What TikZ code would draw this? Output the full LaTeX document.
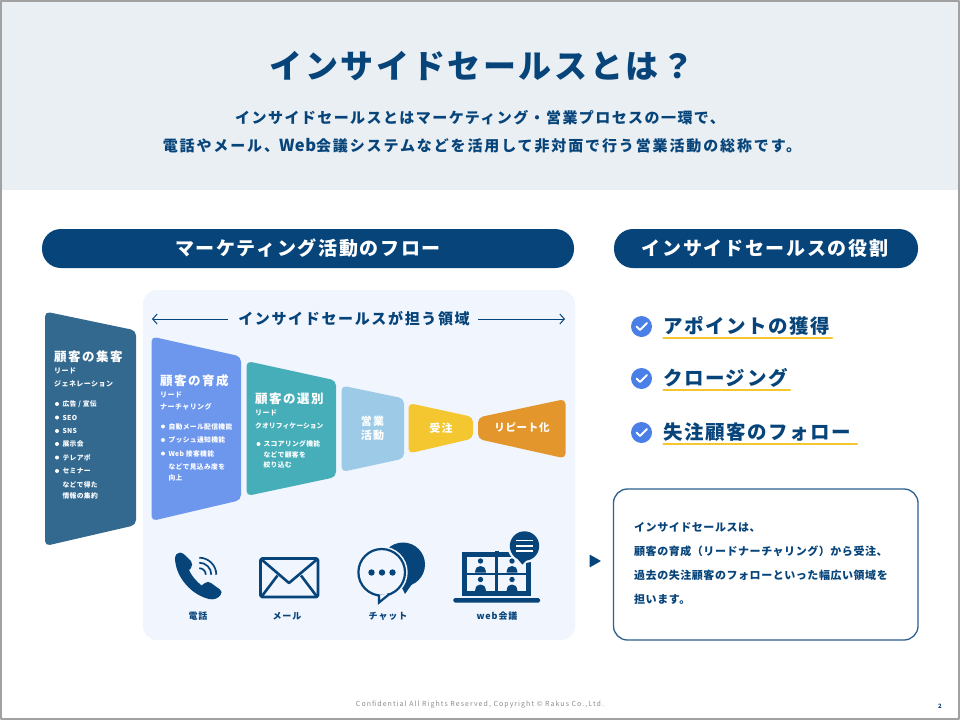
\documentclass[tikz,border=0pt]{standalone}
\usepackage{fontspec}
\setmainfont{Noto Sans CJK JP}
\usetikzlibrary{arrows.meta}

\definecolor{navy}{HTML}{07447A}
\definecolor{headbg}{HTML}{E9EFF2}
\definecolor{panelbg}{HTML}{F0F5FE}
\definecolor{leadgen}{HTML}{33688F}
\definecolor{nurture}{HTML}{6D96ED}
\definecolor{select}{HTML}{46AEB9}
\definecolor{sales}{HTML}{9DCBE7}
\definecolor{order}{HTML}{F4C62F}
\definecolor{repeatc}{HTML}{E2962C}
\definecolor{checkc}{HTML}{4A7FE8}

\newcommand{\jpbold}[2]{\fontsize{#1}{#1}\bfseries\addfontfeature{LetterSpace=#2}}

\tikzset{
    funnel/.style={rounded corners=5pt},
    navytext/.style={text=navy, inner sep=0pt},
    whitetext/.style={text=white, inner sep=0pt},
    whiteleft/.style={whitetext, anchor=west},
    blocktitle/.style={whiteleft, font=\jpbold{12.5}{12}},
    blocksub/.style={whiteleft, font=\jpbold{7}{6}},
    blockitem/.style={whiteleft, font=\jpbold{6.8}{5}},
    banner/.style={fill=navy, rounded corners=19pt},
    pilltext/.style={text=white, inner sep=0pt, font=\jpbold{19}{9}},
    iconlabel/.style={navytext, font=\jpbold{9}{10}},
    roletext/.style={navytext, anchor=west, font=\jpbold{19.5}{8}},
    roleline/.style={draw=order, line width=2.4pt, line cap=round},
    spanarrow/.style={draw=navy, line width=1pt, -{Straight Barb[length=4.5pt,width=10pt]}},
}

\begin{document}
\begin{tikzpicture}[x=1pt, y=-1pt, line join=round]
    \useasboundingbox (0,0) rectangle (960,720);
    \fill[white] (0,0) rectangle (960,720);

    % header
    \fill[headbg] (0,0) rectangle (960,190);
    \node[navytext, font=\jpbold{33}{8}] (title) at (482,66) {インサイドセールスとは？};
    \node[navytext, font=\jpbold{15}{9.5}] (lead1) at (480,118) {インサイドセールスとはマーケティング・営業プロセスの一環で、};
    \node[navytext, font=\jpbold{15}{12.5}] (lead2) at (482,146) {電話やメール、{\fontsize{16.5}{16.5}\selectfont\addfontfeature{LetterSpace=3}Web}会議システムなどを活用して非対面で行う営業活動の総称です。};

    % banners
    \path[banner] (42,229) rectangle (574,268);
    \path[banner] (614,229) rectangle (918,268);
    \node[pilltext] (flowhead) at (308,248) {マーケティング活動のフロー};
    \node[pilltext] (rolehead) at (765,248) {インサイドセールスの役割};

    % panel
    \fill[panelbg, rounded corners=14pt] (143,290) rectangle (575,640);
    \node[navytext, font=\jpbold{15}{11}] (span) at (354,319) {インサイドセールスが担う領域};
    \coordinate (spanl) at (152,319);
    \coordinate (spanr) at (565,319);
    \draw[spanarrow] (span.west) ++(-10,0) -- (spanl);
    \draw[spanarrow] (span.east) ++(8,0) -- (spanr);

    % funnel blocks
    \fill[leadgen, funnel] (45,311.5) -- (136,330.5) -- (136,525) -- (45,546) -- cycle;
    \fill[nurture, funnel] (151.5,336.5) -- (241,356.5) -- (241,500) -- (151.5,521) -- cycle;
    \fill[select, funnel] (246.5,361) -- (336,380.5) -- (336,477) -- (246.5,496) -- cycle;
    \fill[sales, funnel] (341.5,385.5) -- (404,398.5) -- (404,458.5) -- (341.5,472) -- cycle;
    \fill[order, funnel] (408.5,403) -- (473,417) -- (473,438.5) -- (408.5,453.5) -- cycle;
    \fill[repeatc, funnel] (478,417.5) -- (565.5,399) -- (565.5,458.5) -- (478,439) -- cycle;

    % lead generation text
    \node[blocktitle] (leadgentitle) at (54,357) {顧客の集客};
    \node[blocksub] (leadgensub1) at (54,371) {リード};
    \node[blocksub] (leadgensub2) at (54,384) {ジェネレーション};
    \foreach \y/\t [count=\i] in {404/{広告 / 宣伝},417.5/SEO,431/SNS,444/展示会,457.5/テレアポ,471/セミナー} {
        \fill[white] (57,\y) circle (2pt);
        \node[blockitem] (leadgenitem\i) at (62.3,\y) {\t};
    }
    \node[blockitem] (leadgennote1) at (62.3,485) {などで得た};
    \node[blockitem] (leadgennote2) at (62.3,495.5) {情報の集約};

    % nurturing text
    \node[blocktitle] (nurturetitle) at (160,381) {顧客の育成};
    \node[blocksub] (nurturesub1) at (160,394.5) {リード};
    \node[blocksub] (nurturesub2) at (160,407) {ナーチャリング};
    \foreach \y/\t [count=\i] in {426.5/自動メール配信機能,440/プッシュ通知機能,453.5/Web 接客機能} {
        \fill[white] (163,\y) circle (2pt);
        \node[blockitem] (nurtureitem\i) at (168.3,\y) {\t};
    }
    \node[blockitem] (nurturenote1) at (168.3,467) {などで見込み度を};
    \node[blockitem] (nurturenote2) at (168.3,478) {向上};

    % qualification text
    \node[blocktitle] (selecttitle) at (255,399) {顧客の選別};
    \node[blocksub] (selectsub1) at (255,413) {リード};
    \node[blocksub, font=\jpbold{6.8}{1}] (selectsub2) at (255,425.5) {クオリフィケーション};
    \fill[white] (258.5,444) circle (2pt);
    \node[blockitem] (selectitem) at (263.3,444) {スコアリング機能};
    \node[blockitem] (selectnote1) at (263.3,455) {などで顧客を};
    \node[blockitem] (selectnote2) at (263.3,465) {絞り込む};

    % small blocks
    \node[whitetext, font=\jpbold{11}{10}] (salestext1) at (372.5,421) {営業};
    \node[whitetext, font=\jpbold{11}{10}] (salestext2) at (372.5,435) {活動};
    \node[whitetext, font=\jpbold{11}{10}] (ordertext) at (441,428) {受注};
    \node[whitetext, font=\jpbold{10.5}{6}] (repeattext) at (522,428) {リピート化};

    % phone
    \fill[navy] (175,559) .. controls (175,555) and (177,552.5) .. (180,552.5)
        .. controls (182,552.5) and (184,554) .. (186,556)
        -- (191,561) .. controls (192.5,563) and (192.5,566) .. (191,568)
        -- (189,570) .. controls (191,575) and (196,581) .. (201.5,585.5)
        -- (205,583) .. controls (207,581.5) and (209,581.5) .. (211,583)
        -- (220,589.5) .. controls (222,591) and (222,593) .. (220.5,595)
        .. controls (218,598.5) and (214,600) .. (209,599)
        .. controls (192,595) and (176,578) .. (175,559) -- cycle;
    \foreach \r in {6.5,12,17} {
        \draw[navy, line width=1.7pt] (199.3,574.7-\r) .. controls (199.3+0.55*\r,574.7-\r) and (199.3+\r,574.7-0.55*\r) .. (199.3+\r,574.7);
    }
    \node[iconlabel] (phonelabel) at (198,616) {電話};

    % mail
    \draw[navy, line width=2.6pt, rounded corners=1.5pt] (260.5,558.5) rectangle (318,597);
    \draw[navy, line width=2.6pt] (261,559) -- (289,583) -- (317.5,559);
    \draw[navy, line width=2.6pt] (262,596) -- (277.5,575.5);
    \draw[navy, line width=2.6pt] (316.5,596) -- (301,575.5);
    \node[iconlabel] (maillabel) at (287,616) {メール};

    % chat
    \fill[navy] (403,564.5) circle (22pt);
    \fill[navy] (400,584) -- (405,594) -- (412,584) -- cycle;
    \fill[panelbg] (381.7,572.3) circle (26pt);
    \draw[navy, line width=2.2pt, fill=panelbg] (381.7,572.3) circle (23.3pt);
    \draw[navy, line width=2.2pt, fill=panelbg, line join=miter] (379,594.5) -- (379,602.5) -- (389.5,594);
    \foreach \x in {371.5,382,392.5} {
        \fill[navy] (\x,572.5) circle (3.2pt);
    }
    \node[iconlabel] (chatlabel) at (388,616) {チャット};

    % web meeting
    \fill[navy] (461.5,552) rectangle (531,596);
    \fill[navy] (495,550.8) rectangle (499,552);
    \fill[navy, rounded corners=1.5pt] (453.3,598) rectangle (540,602.5);
    \foreach \x/\y in {466.5/556.5,498/556.5,466.5/575,498/575} {
        \fill[panelbg] (\x,\y) rectangle ++(28,16);
        \fill[navy] (\x+14,\y+4.5) circle (2.7pt);
        \fill[navy] (\x+8.5,\y+16.2) .. controls (\x+9,\y+11) and (\x+11,\y+9.5) .. (\x+14,\y+9.5) .. controls (\x+17,\y+9.5) and (\x+19,\y+11) .. (\x+19.5,\y+16.2) -- cycle;
    }
    \fill[panelbg] (524.5,546) circle (17pt);
    \fill[navy] (524.5,546) circle (14.7pt);
    \fill[navy] (516,557) -- (522.3,564.5) -- (530,557) -- cycle;
    \foreach \y in {540.7,545.8,551} {
        \draw[white, line width=1.4pt] (516,\y) -- (533.3,\y);
    }
    \node[iconlabel] (meetlabel) at (497,616) {web会議};

    % pointer
    \fill[navy, rounded corners=0.5pt] (589.5,554.5) -- (601,561) -- (589.5,567.5) -- cycle;

    % role list
    \foreach \y/\r/\t [count=\i] in {326.5/832/アポイントの獲得,378.5/790/クロージング,432.5/857/失注顧客のフォロー} {
        \fill[checkc] (641.5,\y) circle (10.5pt);
        \draw[white, line width=2pt, line cap=round] (636.5,\y) -- (640,\y+3.5) -- (647,\y-3.5);
        \node[roletext] (role\i) at (663,\y-0.8) {\t};
        \draw[roleline] (663.5,\y+11.5) -- (\r,\y+11.5);
    }

    % note box
    \draw[draw=navy!85!white, line width=1.3pt, fill=white, rounded corners=14pt] (613.5,489) rectangle (918,640);
    \foreach \y/\t [count=\i] in {527/インサイドセールスは、,551/顧客の育成（リードナーチャリング）から受注、,575/過去の失注顧客のフォローといった幅広い領域を,599/担います。} {
        \node[navytext, anchor=west, font=\jpbold{11}{5}] (note\i) at (634,\y) {\t};
    }

    % footer
    \node[text=black!45, inner sep=0pt, font=\fontsize{7}{7}\selectfont\addfontfeature{LetterSpace=15}] (footer) at (480,705) {Confidential All Rights Reserved, Copyright © Rakus Co.,Ltd.};
    \node[text=navy, inner sep=0pt, font=\jpbold{6}{0}] (pagenum) at (940,706) {2};

    % frame
    \draw[black!37, line width=2pt] (1,1) rectangle (959,719);
\end{tikzpicture}
\end{document}
